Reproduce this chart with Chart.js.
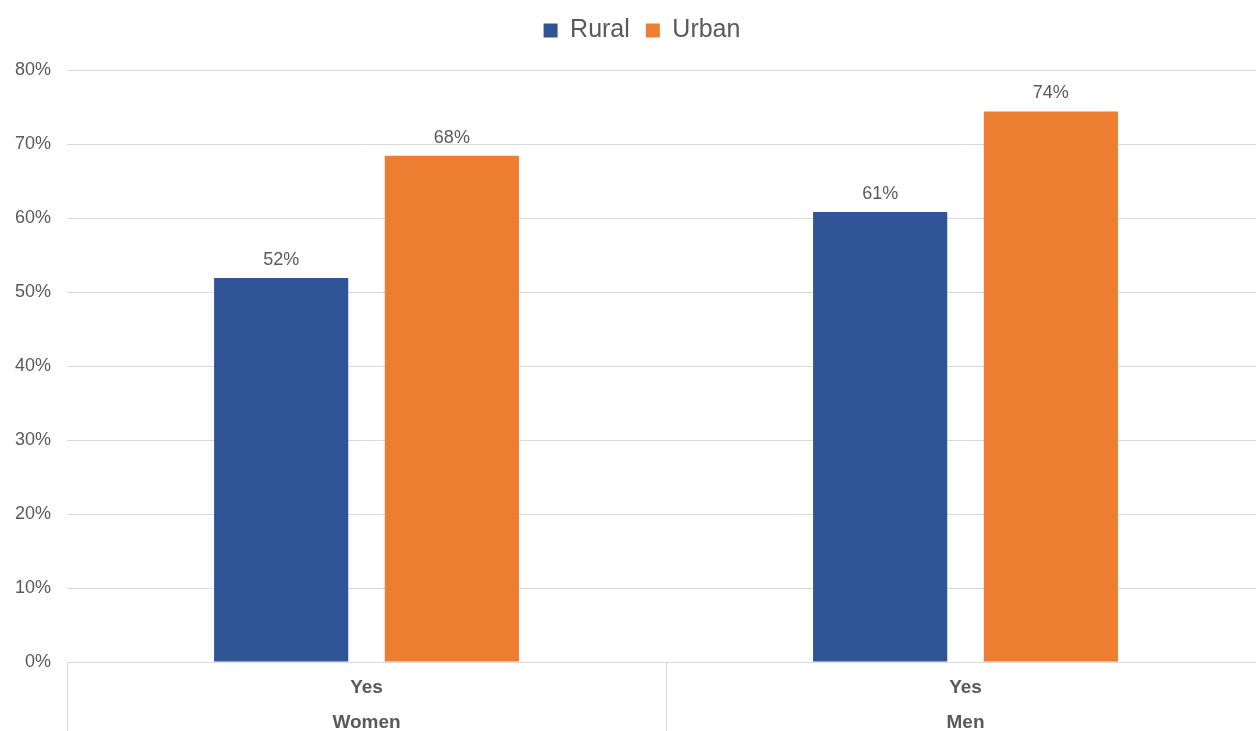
<!DOCTYPE html>
<html>
<head>
<meta charset="utf-8">
<script src="https://cdn.jsdelivr.net/npm/chart.js@4"></script>
<style>
html,body{margin:0;padding:0;background:#fff;overflow:hidden;width:1256px;height:731px;}
#wrap{position:absolute;left:0;top:0;width:1265px;height:748px;}
</style>
</head>
<body>
<div id="wrap"><canvas id="c"></canvas></div>
<script>
const categories = [["Yes","Women"],["Yes","Men"]];
const seriesNames = ["Rural","Urban"];
const rural = [51.9, 60.8];
const urban = [68.4, 74.4];
const valueLabels = [["52%","61%"],["68%","74%"]];
const yTicks = [0,10,20,30,40,50,60,70,80];

const TEXT = '#595959';
const GRID = '#d9d9d9';
const FONT = '"Liberation Sans", Arial, sans-serif';

const valueLabelPlugin = {
  id:'valueLabels',
  afterDatasetsDraw(chart){
    const ctx = chart.ctx;
    ctx.save();
    ctx.font = '18px ' + FONT;
    ctx.fillStyle = TEXT;
    ctx.textAlign = 'center';
    ctx.textBaseline = 'alphabetic';
    chart.data.datasets.forEach((ds, di) => {
      const meta = chart.getDatasetMeta(di);
      meta.data.forEach((bar, i) => {
        ctx.fillText(valueLabels[di][i], bar.x, bar.y - 13);
      });
    });
    ctx.restore();
  }
};

const separatorPlugin = {
  id:'separators',
  afterDraw(chart){
    const x = chart.scales.x;
    const ctx = chart.ctx;
    const ca = chart.chartArea;
    const xs = [ca.left];
    for (let i = 0; i < categories.length - 1; i++) {
      xs.push((x.getPixelForValue(i) + x.getPixelForValue(i+1)) / 2);
    }
    xs.push(ca.right);
    ctx.save();
    ctx.strokeStyle = GRID;
    ctx.lineWidth = 1;
    xs.forEach(px => {
      const p = Math.round(px) + 0.5;
      ctx.beginPath();
      ctx.moveTo(p, ca.bottom);
      ctx.lineTo(p, chart.height);
      ctx.stroke();
    });
    ctx.restore();
  }
};

// extra space below the legend, and a small horizontal offset of the legend
const legendSpacePlugin = {
  id:'legendSpace',
  beforeLayout(chart){
    const lg = chart.legend;
    if (lg && !lg._patched) {
      const orig = lg.fit.bind(lg);
      lg.fit = function(){ orig(); this.height += 17; };
      lg._patched = true;
    }
  },
  afterLayout(chart){
    const lg = chart.legend;
    if (lg) { lg.left += 10; lg.right += 10; }
  }
};

new Chart(document.getElementById('c'), {
  type:'bar',
  data:{
    labels: categories,
    datasets:[
      {label: seriesNames[0], data: rural, backgroundColor:'#2F5597', borderWidth:0},
      {label: seriesNames[1], data: urban, backgroundColor:'#ED7D31', borderWidth:0}
    ]
  },
  options:{
    responsive:true,
    maintainAspectRatio:false,
    animation:false,
    layout:{padding:{left:-1, right:0, top:2, bottom:0}},
    datasets:{bar:{categoryPercentage:0.57, barPercentage:0.786}},
    plugins:{
      legend:{
        position:'top',
        labels:{
          font:{family:FONT, size:25},
          color:TEXT,
          boxWidth:14, boxHeight:14,
          padding:16
        }
      },
      tooltip:{enabled:false}
    },
    scales:{
      y:{
        min:0, max:80,
        afterBuildTicks(scale){ scale.ticks = yTicks.map(v => ({value:v})); },
        ticks:{
          callback:v => v + '%',
          color:TEXT,
          font:{family:FONT, size:18},
          padding:16
        },
        grid:{color:GRID, drawTicks:false, lineWidth:1},
        border:{display:false}
      },
      x:{
        ticks:{
          color:TEXT,
          font:{family:FONT, size:19, weight:'bold', lineHeight:1.84},
          padding:8,
          maxRotation:0
        },
        grid:{display:false, drawTicks:false},
        border:{display:true, color:GRID, width:1}
      }
    }
  },
  plugins:[legendSpacePlugin, valueLabelPlugin, separatorPlugin]
});
</script>
</body>
</html>
